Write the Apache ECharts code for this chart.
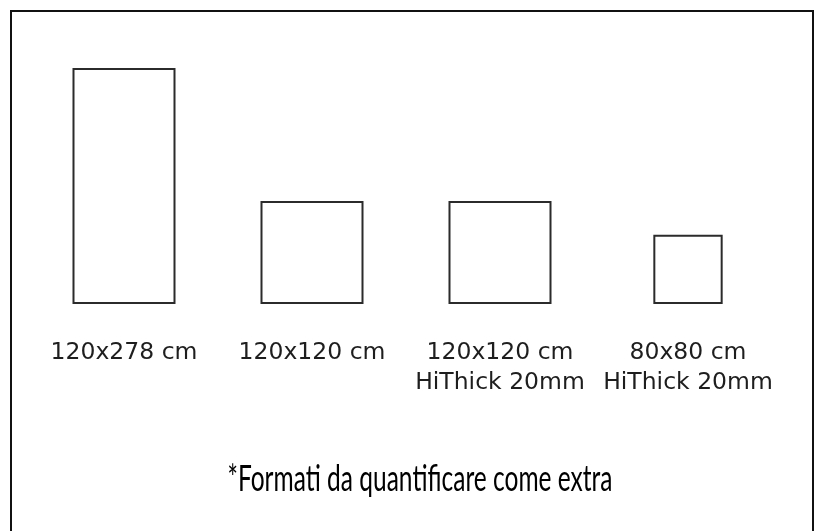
<!DOCTYPE html>
<html>
<head>
<meta charset="utf-8">
<script src="https://cdn.jsdelivr.net/npm/echarts@6/dist/echarts.min.js"></script>
<style>
  html, body { margin: 0; padding: 0; background: #fff; }
  #chart { width: 819px; height: 531px; }
</style>
</head>
<body>
<div id="chart"></div>
<script>
// formati (cm): larghezza x altezza
var formats = ["120x278 cm", "120x120 cm", "120x120 cm\nHiThick 20mm", "80x80 cm\nHiThick 20mm"];
var widthsCm = [120, 120, 120, 80];
var heightsCm = [278, 120, 120, 80];
var footNote = "*Formati da quantificare come extra";

var data = formats.map(function (f, i) { return [i, widthsCm[i], heightsCm[i]]; });

// nota in carattere stretto: larghezza voluta ~385px
var footFont = "36px Lato, 'DejaVu Sans', sans-serif";
var ctx = document.createElement("canvas").getContext("2d");
ctx.font = footFont;
var footScale = 385 / ctx.measureText(footNote).width;

var chart = echarts.init(document.getElementById("chart"));
chart.setOption({
    backgroundColor: "#fff",
    animation: false,
    grid: {top: 69, bottom: 228, left: 30, right: 37},
    xAxis: {
        type: "category",
        data: formats,
        axisLine: {show: false},
        axisTick: {show: false},
        axisLabel: {
            margin: 35,
            fontFamily: "DejaVu Sans, sans-serif",
            fontSize: 23.5,
            lineHeight: 30,
            color: "#1e1e1e",
            interval: 0
        }
    },
    yAxis: {
        type: "value",
        min: 0,
        max: 278,
        show: false
    },
    series: [{
        type: "custom",
        data: data,
        renderItem: function (params, api) {
            var base = api.coord([api.value(0), 0]);
            var w = api.size([0, api.value(1)])[1];
            var h = api.size([0, api.value(2)])[1];
            return {
                type: "rect",
                shape: {x: base[0] - w / 2, y: base[1] - h, width: w, height: h},
                style: {fill: "#fff", stroke: "#2b2b2b", lineWidth: 2}
            };
        }
    }],
    graphic: [{
        type: "rect",
        shape: {x: 11, y: 11, width: 802, height: 530},
        style: {fill: null, stroke: "#111", lineWidth: 2},
        silent: true
    }, {
        type: "text",
        x: 420,
        y: 479,
        scaleX: footScale,
        style: {
            text: footNote,
            font: footFont,
            fill: "#000",
            textAlign: "center",
            textVerticalAlign: "middle"
        },
        silent: true
    }]
});
</script>
</body>
</html>
